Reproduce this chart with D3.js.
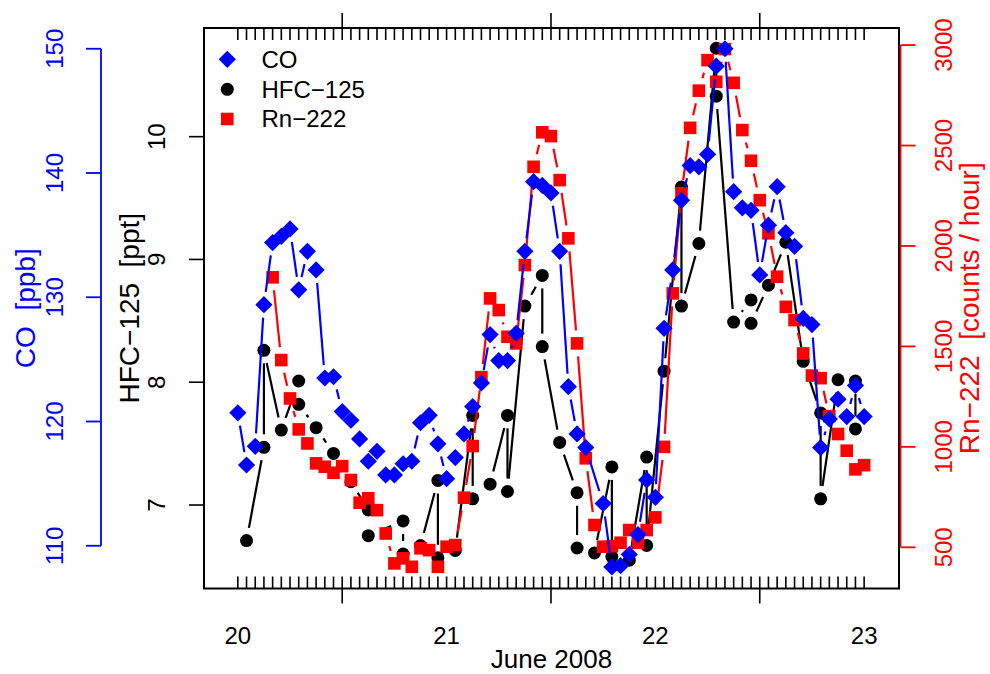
<!DOCTYPE html>
<html>
<head>
<meta charset="utf-8">
<script src="https://cdn.jsdelivr.net/npm/d3@7"></script>
<style>
  body { margin: 0; background: #fff; }
  text { font-family: "Liberation Sans", Arial, Helvetica, sans-serif; white-space: pre; }
</style>
</head>
<body>
<svg id="chart" width="990" height="674"></svg>
<script>
// Sampling times are hours after 2008-06-20 00:00.
const coHours = [0,1,2,3,4,5,6,7,8,9,10,11,12,13,14,15,16,17,18,19,20,21,22,23,24,25,26,27,28,29,30,31,32,33,34,35,36,37,38,39,40,
                 42,43,44,45,46,47,48,49,50,51,52,53,54,55,56,57,58,59,60,61,62,63,64,65,66,67,68,69,70,71,72];
const coValues = [120.7,116.5,118.0,129.4,134.4,134.9,135.5,130.6,133.7,132.2,123.5,123.6,120.8,120.1,118.6,116.8,117.6,115.7,115.7,116.6,
                  116.8,119.9,120.5,118.2,115.4,117.1,119.0,121.2,123.1,127.0,124.9,124.9,127.1,133.7,139.3,139.0,138.4,133.7,122.8,119.0,117.9,
                  113.4,108.3,108.4,109.3,110.9,115.3,113.9,127.5,132.2,137.8,140.6,140.5,141.5,148.6,150.0,138.5,137.2,137.0,131.8,135.8,
                  138.9,135.2,134.1,128.3,127.8,117.9,120.2,121.8,120.4,122.9,120.4];

// HFC-125 is measured in pairs every four hours, listed in sampling order.
const hfcHours = [1,3,3,5,7,7,9,11,13,15,15,19,19,21,23,23,25,27,27,29,31,31,33,35,35,37,39,39,41,43,43,45,47,47,
                  49,51,51,53,55,55,57,59,59,61,63,65,67,67,69,71,71];
const hfcValues = [6.71,7.47,8.26,7.61,8.01,7.82,7.63,7.42,7.19,6.96,6.75,6.87,6.60,6.67,7.20,6.57,6.63,7.73,7.05,7.17,7.73,7.11,
                   8.62,8.87,8.29,7.51,7.10,6.65,6.61,7.31,6.58,6.55,7.39,6.67,8.09,9.59,8.62,9.13,10.72,10.33,8.49,8.67,8.48,
                   8.79,9.14,8.17,7.75,7.05,8.02,8.01,7.62];

const rnHours = [4,5,6,7,8,9,10,11,12,13,14,15,16,17,18,19,20,21,22,23,24,25,26,27,28,29,30,31,32,33,34,35,36,37,38,39,40,
                 41,42,43,44,45,46,47,48,49,50,51,52,53,54,55,56,57,58,59,60,61,62,63,64,65,66,67,68,69,70,71,72];
const rnValues = [1844,1432,1241,1087,1017,918,901,871,904,835,722,744,685,569,420,445,403,495,486,403,503,511,747,1004,1347,
                  1739,1681,1548,1515,1905,2394,2566,2547,2328,2038,1515,943,611,503,506,523,586,523,586,649,1000,1764,2263,
                  2588,2773,2925,2817,2980,2812,2577,2424,2228,2063,1847,1697,1631,1465,1355,1342,1153,1064,981,888,909];

const dayTicks = [20, 21, 22, 23];
const hfcTicks = [7, 8, 9, 10];
const coTicks = [110, 120, 130, 140, 150];
const rnTicks = [500, 1000, 1500, 2000, 2500, 3000];

const BLUE = "#0000ff", RED = "#ff0000", BLACK = "#000000";
const FONT = 24;       // tick labels and legend
const TITLE_FONT = 28; // axis titles

const svg = d3.select("#chart");
const P = { l: 204, r: 899, t: 28, b: 588.5 };

const x = d3.scaleLinear().domain([19.838, 23.167]).range([P.l, P.r]);
const yH = d3.scaleLinear().domain([6.320, 10.885]).range([P.b, P.t]);
const yC = d3.scaleLinear().domain([106.56, 151.67]).range([P.b, P.t]);
const yR = d3.scaleLinear().domain([295, 3085]).range([P.b, P.t]);

const toDay = h => 20 + h / 24;

// Plot frame
svg.append("rect")
  .attr("x", P.l).attr("y", P.t)
  .attr("width", P.r - P.l).attr("height", P.b - P.t)
  .attr("fill", "none").attr("stroke", BLACK).attr("stroke-width", 2);

// Hourly minor ticks (inside, top and bottom) and noon ticks (outside)
const hourTicks = d3.range(0, 73).map(toDay);
const noonTicks = [20.5, 21.5, 22.5];
const tickG = svg.append("g").attr("stroke", BLACK).attr("stroke-width", 1.6);
tickG.selectAll(".mb").data(hourTicks).join("line")
  .attr("x1", d => x(d)).attr("x2", d => x(d)).attr("y1", P.b).attr("y2", P.b - 12);
tickG.selectAll(".mt").data(hourTicks).join("line")
  .attr("x1", d => x(d)).attr("x2", d => x(d)).attr("y1", P.t).attr("y2", P.t + 12);
tickG.selectAll(".nb").data(noonTicks).join("line")
  .attr("x1", d => x(d)).attr("x2", d => x(d)).attr("y1", P.b).attr("y2", P.b + 15);
tickG.selectAll(".nt").data(noonTicks).join("line")
  .attr("x1", d => x(d)).attr("x2", d => x(d)).attr("y1", P.t).attr("y2", P.t - 15);

// Day labels
svg.selectAll(".dayLab").data(dayTicks).join("text")
  .attr("x", d => x(d)).attr("y", 636).attr("dy", ".35em")
  .attr("text-anchor", "middle").attr("font-size", FONT).attr("fill", BLACK)
  .text(d => d);
svg.append("text").attr("x", (P.l + P.r) / 2).attr("y", 659).attr("dy", ".35em")
  .attr("text-anchor", "middle").attr("font-size", 26).attr("fill", BLACK)
  .text("June 2008");

// Vertical-text helper
function vText(g, cx, cy, txt, color, size) {
  g.append("text")
    .attr("transform", `translate(${cx},${cy}) rotate(-90)`)
    .attr("dy", ".35em").attr("text-anchor", "middle")
    .attr("font-size", size).attr("fill", color).text(txt);
}

// HFC-125 axis on the frame
const gH = svg.append("g");
gH.selectAll("line").data(hfcTicks).join("line")
  .attr("x1", P.l).attr("x2", P.l - 15).attr("y1", d => yH(d)).attr("y2", d => yH(d))
  .attr("stroke", BLACK).attr("stroke-width", 1.6);
hfcTicks.forEach(v => vText(gH, 157, yH(v), String(v), BLACK, FONT));
vText(gH, 129, (P.t + P.b) / 2, "HFC\u2212125  [ppt]", BLACK, TITLE_FONT);

// CO axis, offset to the left
const coX = 101;
const gC = svg.append("g");
gC.append("line").attr("x1", coX).attr("x2", coX)
  .attr("y1", yC(coTicks[0])).attr("y2", yC(coTicks[coTicks.length - 1]))
  .attr("stroke", BLUE).attr("stroke-width", 1.8);
gC.selectAll(".t").data(coTicks).join("line")
  .attr("x1", coX).attr("x2", coX - 15).attr("y1", d => yC(d)).attr("y2", d => yC(d))
  .attr("stroke", BLUE).attr("stroke-width", 1.8);
coTicks.forEach(v => vText(gC, 55, yC(v), String(v), BLUE, FONT));
vText(gC, 25, (P.t + P.b) / 2, "CO  [ppb]", BLUE, TITLE_FONT);

// Rn-222 axis on the right
const rnX = 900.5;
const gR = svg.append("g");
gR.append("line").attr("x1", rnX).attr("x2", rnX)
  .attr("y1", yR(rnTicks[0])).attr("y2", yR(rnTicks[rnTicks.length - 1]))
  .attr("stroke", RED).attr("stroke-width", 1.8);
gR.selectAll(".t").data(rnTicks).join("line")
  .attr("x1", rnX).attr("x2", rnX + 15).attr("y1", d => yR(d)).attr("y2", d => yR(d))
  .attr("stroke", RED).attr("stroke-width", 1.8);
rnTicks.forEach(v => vText(gR, 944, yR(v), String(v), RED, FONT));
vText(gR, 969, (P.t + P.b) / 2, "Rn\u2212222  [counts / hour]", RED, TITLE_FONT);

// Markers
const GAP = 13;
const shapes = {
  diamond: g => g.append("path").attr("d", "M0,-8.6L8.6,0L0,8.6L-8.6,0Z"),
  circle: g => g.append("circle").attr("r", 6.5),
  square: g => g.append("rect").attr("x", -6.3).attr("y", -6.3).attr("width", 12.6).attr("height", 12.6)
};

// Points joined by segments that stop short of each marker
function series(hours, values, yScale, color, shape) {
  const pts = hours.map((h, i) => [x(toDay(h)), yScale(values[i])]);
  const segs = d3.pairs(pts).map(([a, b]) => {
    const dx = b[0] - a[0], dy = b[1] - a[1], d = Math.hypot(dx, dy);
    if (d <= 2 * GAP) return null;
    const ux = dx / d, uy = dy / d;
    return [a[0] + ux * GAP, a[1] + uy * GAP, b[0] - ux * GAP, b[1] - uy * GAP];
  }).filter(s => s);
  const g = svg.append("g");
  g.selectAll("line").data(segs).join("line")
    .attr("x1", s => s[0]).attr("y1", s => s[1]).attr("x2", s => s[2]).attr("y2", s => s[3])
    .attr("stroke", color).attr("stroke-width", 2.2);
  pts.forEach(p => {
    const m = g.append("g").attr("transform", `translate(${p[0]},${p[1]})`).attr("fill", color);
    shapes[shape](m);
  });
}

series(hfcHours, hfcValues, yH, BLACK, "circle");
series(rnHours, rnValues, yR, RED, "square");
series(coHours, coValues, yC, BLUE, "diamond");

// Legend
const legendItems = [
  { label: "CO", color: BLUE, shape: "diamond", y: 59.3 },
  { label: "HFC\u2212125", color: BLACK, shape: "circle", y: 89.3 },
  { label: "Rn\u2212222", color: RED, shape: "square", y: 119 }
];
legendItems.forEach(it => {
  const m = svg.append("g").attr("transform", `translate(227.3,${it.y})`).attr("fill", it.color);
  shapes[it.shape](m);
  svg.append("text").attr("x", 261.5).attr("y", it.y).attr("dy", ".35em")
    .attr("font-size", FONT).attr("fill", BLACK).text(it.label);
});
</script>
</body>
</html>
